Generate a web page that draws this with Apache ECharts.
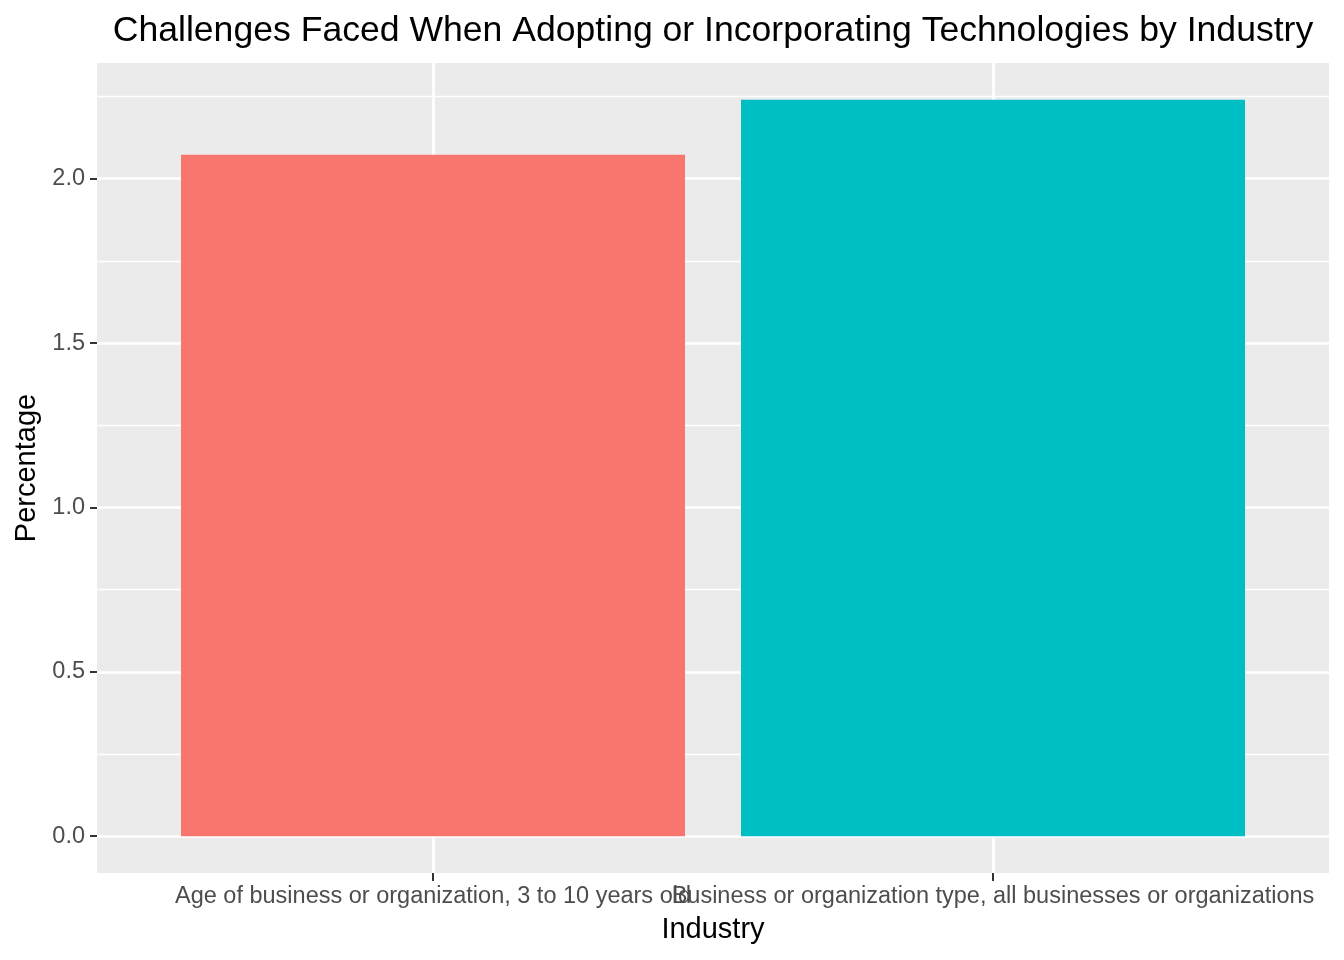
<!DOCTYPE html>
<html>
<head>
<meta charset="utf-8">
<script src="https://cdn.jsdelivr.net/npm/echarts@6/dist/echarts.min.js"></script>
<style>html,body{margin:0;padding:0;background:#fff}#c{width:1344px;height:960px}</style>
</head>
<body>
<div id="c"></div>
<script>
const categories = ["Age of business or organization, 3 to 10 years old", "Business or organization type, all businesses or organizations"];
const values = [2.073, 2.24];
const yTicks = [0, 0.5, 1.0, 1.5, 2.0];
const yMinor = [0.25, 0.75, 1.25, 1.75, 2.25];
const barColors = ["#F8766D", "#00BFC4"];

const chart = echarts.init(document.getElementById('c'), null, {renderer: 'canvas'});
const font = 'Liberation Sans, Arial, Helvetica, sans-serif';
const xPos = categories.map((c, i) => i + 1);

const gridLines = [];
yMinor.forEach(v => gridLines.push({yAxis: v, lineStyle: {width: 1.4}}));
yTicks.forEach(v => gridLines.push({yAxis: v, lineStyle: {width: 2.7}}));
xPos.forEach(v => gridLines.push({xAxis: v, lineStyle: {width: 2.7}}));

function makeXAxis(i, withName) {
  return {
    type: 'value', min: 0.4, max: 2.6, position: 'bottom', offset: 0,
    name: withName ? 'Industry' : '', nameLocation: 'middle', nameGap: 42,
    nameTextStyle: {fontFamily: font, fontSize: 29, color: '#000'},
    axisLine: {show: false, onZero: false},
    axisTick: {show: true, customValues: [xPos[i]], length: 8, lineStyle: {color: '#333333', width: 2}},
    axisLabel: {customValues: [xPos[i]], showMinLabel: true, showMaxLabel: true, hideOverlap: false,
      margin: 12, fontFamily: font, fontSize: 23.5, color: '#4D4D4D',
      formatter: v => categories[Math.round(v) - 1] || ''},
    splitLine: {show: false}
  };
}

chart.setOption({
  animation: false,
  backgroundColor: '#FFFFFF',
  title: {
    text: 'Challenges Faced When Adopting or Incorporating Technologies by Industry',
    left: 708, textAlign: 'center', top: 8,
    textStyle: {fontFamily: font, fontSize: 35.6, fontWeight: 'normal', color: '#000'}
  },
  grid: {left: 97, right: 15, top: 63, bottom: 87, show: true, backgroundColor: '#EBEBEB', borderWidth: 0},
  xAxis: categories.map((c, i) => makeXAxis(i, i === 0)),
  yAxis: {
    type: 'value', min: -0.112, max: 2.352,
    name: 'Percentage', nameLocation: 'middle', nameGap: 56,
    nameTextStyle: {fontFamily: font, fontSize: 29, color: '#000'},
    axisLine: {show: false, onZero: false},
    axisTick: {show: true, customValues: yTicks, length: 7, lineStyle: {color: '#333333', width: 2}},
    axisLabel: {customValues: yTicks, showMinLabel: true, showMaxLabel: true, margin: 12, fontFamily: font, fontSize: 23.5, color: '#4D4D4D',
      formatter: v => v.toFixed(1)},
    splitLine: {show: false}
  },
  series: [
    {
      type: 'line', data: [], silent: true, z: 1,
      markLine: {silent: true, symbol: ['none', 'none'], z: 1, animation: false,
        label: {show: false}, lineStyle: {color: '#FFFFFF', type: 'solid'}, data: gridLines}
    },
    {
      type: 'bar', z: 2, barWidth: 504,
      data: values.map((v, i) => ({value: [xPos[i], v], itemStyle: {color: barColors[i]}}))
    }
  ]
});
</script>
</body>
</html>
